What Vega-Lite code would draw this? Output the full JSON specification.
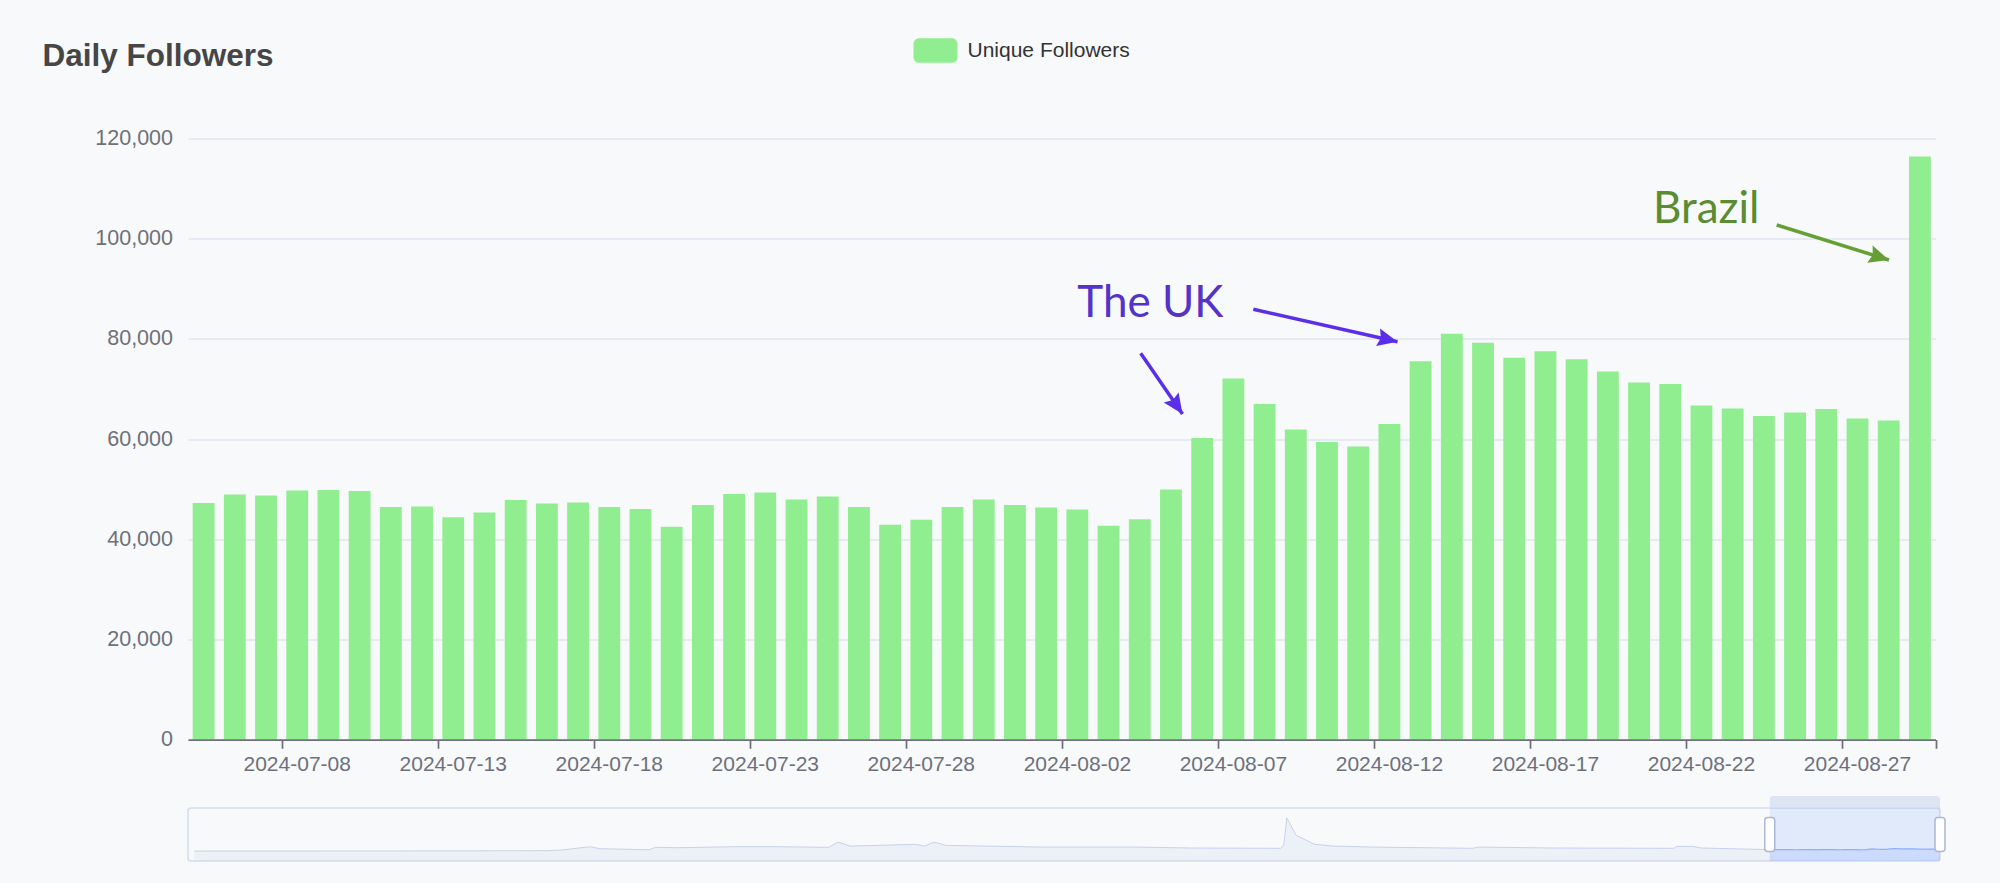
{
  "$schema": "https://vega.github.io/schema/vega-lite/v6.json",
  "background": "#f8f9fb",
  "padding": {"left": 42, "top": 28.5, "right": 70, "bottom": 35},
  "bounds": "flush",
  "spacing": 68.5,
  "title": {
    "text": "Daily Followers",
    "anchor": "start",
    "frame": "group",
    "dx": -145.5,
    "offset": -44,
    "fontSize": 31.5,
    "fontWeight": "bold",
    "color": "#464646",
    "font": "Liberation Sans"
  },
  "datasets": {
    "daily": [
      {"date": "2024-07-05", "followers": 47200},
      {"date": "2024-07-06", "followers": 48900},
      {"date": "2024-07-07", "followers": 48700},
      {"date": "2024-07-08", "followers": 49700},
      {"date": "2024-07-09", "followers": 49800},
      {"date": "2024-07-10", "followers": 49600},
      {"date": "2024-07-11", "followers": 46400},
      {"date": "2024-07-12", "followers": 46500},
      {"date": "2024-07-13", "followers": 44400},
      {"date": "2024-07-14", "followers": 45300},
      {"date": "2024-07-15", "followers": 47800},
      {"date": "2024-07-16", "followers": 47100},
      {"date": "2024-07-17", "followers": 47300},
      {"date": "2024-07-18", "followers": 46400},
      {"date": "2024-07-19", "followers": 46000},
      {"date": "2024-07-20", "followers": 42500},
      {"date": "2024-07-21", "followers": 46800},
      {"date": "2024-07-22", "followers": 49000},
      {"date": "2024-07-23", "followers": 49300},
      {"date": "2024-07-24", "followers": 47900},
      {"date": "2024-07-25", "followers": 48500},
      {"date": "2024-07-26", "followers": 46400},
      {"date": "2024-07-27", "followers": 42900},
      {"date": "2024-07-28", "followers": 43900},
      {"date": "2024-07-29", "followers": 46400},
      {"date": "2024-07-30", "followers": 47900},
      {"date": "2024-07-31", "followers": 46800},
      {"date": "2024-08-01", "followers": 46300},
      {"date": "2024-08-02", "followers": 45900},
      {"date": "2024-08-03", "followers": 42700},
      {"date": "2024-08-04", "followers": 44000},
      {"date": "2024-08-05", "followers": 49900},
      {"date": "2024-08-06", "followers": 60200},
      {"date": "2024-08-07", "followers": 72100},
      {"date": "2024-08-08", "followers": 67000},
      {"date": "2024-08-09", "followers": 61900},
      {"date": "2024-08-10", "followers": 59400},
      {"date": "2024-08-11", "followers": 58500},
      {"date": "2024-08-12", "followers": 63000},
      {"date": "2024-08-13", "followers": 75500},
      {"date": "2024-08-14", "followers": 81000},
      {"date": "2024-08-15", "followers": 79200},
      {"date": "2024-08-16", "followers": 76200},
      {"date": "2024-08-17", "followers": 77500},
      {"date": "2024-08-18", "followers": 75900},
      {"date": "2024-08-19", "followers": 73500},
      {"date": "2024-08-20", "followers": 71300},
      {"date": "2024-08-21", "followers": 71000},
      {"date": "2024-08-22", "followers": 66700},
      {"date": "2024-08-23", "followers": 66100},
      {"date": "2024-08-24", "followers": 64600},
      {"date": "2024-08-25", "followers": 65300},
      {"date": "2024-08-26", "followers": 66000},
      {"date": "2024-08-27", "followers": 64100},
      {"date": "2024-08-28", "followers": 63700},
      {"date": "2024-08-29", "followers": 116400}
    ],
    "history": [
      {"day": "2023-02-12", "value": 500},
      {"day": "2023-04-10", "value": 3000},
      {"day": "2023-06-06", "value": 13000},
      {"day": "2023-06-11", "value": 37000},
      {"day": "2023-06-17", "value": 113000},
      {"day": "2023-06-20", "value": 146000},
      {"day": "2023-06-23", "value": 80000},
      {"day": "2023-07-09", "value": 46000},
      {"day": "2023-07-11", "value": 126000},
      {"day": "2023-07-18", "value": 113000},
      {"day": "2023-08-05", "value": 146000},
      {"day": "2023-08-20", "value": 146000},
      {"day": "2023-09-05", "value": 126000},
      {"day": "2023-09-08", "value": 302000},
      {"day": "2023-09-12", "value": 169000},
      {"day": "2023-09-21", "value": 193000},
      {"day": "2023-10-03", "value": 226000},
      {"day": "2023-10-06", "value": 169000},
      {"day": "2023-10-09", "value": 302000},
      {"day": "2023-10-13", "value": 193000},
      {"day": "2023-11-12", "value": 136000},
      {"day": "2023-12-13", "value": 136000},
      {"day": "2023-12-31", "value": 103000},
      {"day": "2024-01-29", "value": 93000},
      {"day": "2024-01-30", "value": 203000},
      {"day": "2024-01-31", "value": 1122000},
      {"day": "2024-02-03", "value": 535000},
      {"day": "2024-02-09", "value": 226000},
      {"day": "2024-02-15", "value": 169000},
      {"day": "2024-02-27", "value": 136000},
      {"day": "2024-03-31", "value": 93000},
      {"day": "2024-04-02", "value": 136000},
      {"day": "2024-04-26", "value": 103000},
      {"day": "2024-06-04", "value": 93000},
      {"day": "2024-06-05", "value": 159000},
      {"day": "2024-06-10", "value": 159000},
      {"day": "2024-06-13", "value": 103000},
      {"day": "2024-07-05", "value": 47200}
    ],
    "window": [{"start": "2024-07-05", "end": "2024-08-29"}],
    "notes": [
      {"label": "The UK", "pos": 28.5, "value": 84400},
      {"label": "Brazil", "pos": 46.95, "value": 103100}
    ],
    "arrows": [
      {"arrow": "uk1", "pos": 30.53, "y": 77110, "tipPos": 31.87, "tipY": 64990},
      {"arrow": "uk2", "pos": 34.14, "y": 85900, "tipPos": 38.76, "tipY": 79430},
      {"arrow": "br", "pos": 50.91, "y": 102730, "tipPos": 54.51, "tipY": 95740}
    ]
  },
  "vconcat": [
    {
      "width": 1747.5,
      "height": 601,
      "resolve": {"scale": {"x": "independent"}},
      "layer": [
        {
          "data": {"name": "daily"},
          "mark": {"type": "bar"},
          "encoding": {
            "x": {
              "field": "date",
              "type": "ordinal",
              "scale": {"paddingInner": 0.3, "paddingOuter": 0.15},
              "axis": {
                "title": null,
                "values": ["2024-07-08", "2024-07-13", "2024-07-18", "2024-07-23", "2024-07-28", "2024-08-02", "2024-08-07", "2024-08-12", "2024-08-17", "2024-08-22", "2024-08-27"],
                "labelAngle": 0,
                "labelFontSize": 21,
                "labelColor": "#6e7079",
                "labelFont": "Liberation Sans",
                "labelPadding": 14,
                "labelBaseline": "top",
                "ticks": false,
                "tickSize": 0,
                "domain": false,
                "grid": false
              }
            },
            "y": {
              "field": "followers",
              "type": "quantitative",
              "scale": {"domain": [0, 120000], "nice": false},
              "axis": {
                "title": null,
                "values": [0, 20000, 40000, 60000, 80000, 100000, 120000],
                "format": ",d",
                "labelFontSize": 21.5,
                "labelColor": "#6e7079",
                "labelFont": "Liberation Sans",
                "labelPadding": 15.5,
                "ticks": false,
                "tickSize": 0,
                "domain": false,
                "grid": true,
                "gridColor": "#e0e6f1",
                "gridWidth": 1.3
              }
            },
            "color": {
              "datum": "Unique Followers",
              "type": "nominal",
              "scale": {"range": ["#90ee90"]},
              "legend": {
                "orient": "none",
                "legendX": 725.5,
                "legendY": -110,
                "title": null,
                "padding": 0,
                "symbolType": "M-0.75,-0.557L0.75,-0.557A0.25,0.25 0 0 1 1,-0.307L1,0.307A0.25,0.25 0 0 1 0.75,0.557L-0.75,0.557A0.25,0.25 0 0 1 -1,0.307L-1,-0.307A0.25,0.25 0 0 1 -0.75,-0.557Z",
                "symbolSize": 1936,
                "symbolStrokeWidth": 0,
                "symbolOpacity": 1,
                "labelFontSize": 21,
                "labelFont": "Liberation Sans",
                "labelColor": "#333333",
                "labelOffset": 10,
                "labelLimit": 400
              }
            }
          }
        },
        {
          "layer": [
            {
              "data": {"name": "notes"},
              "mark": {"type": "text", "align": "left", "baseline": "alphabetic", "font": "Lato", "fontSize": 44, "fontWeight": 400},
              "encoding": {
                "x": {
                  "field": "pos",
                  "type": "quantitative",
                  "scale": {"domain": [0, 56], "nice": false, "zero": false},
                  "axis": {
                    "orient": "bottom",
                    "title": null,
                    "values": [3, 8, 13, 18, 23, 28, 33, 38, 43, 48, 53, 56],
                    "labels": false,
                    "grid": false,
                    "domain": true,
                    "domainColor": "#6e7079",
                    "domainWidth": 1.75,
                    "ticks": true,
                    "tickColor": "#6e7079",
                    "tickWidth": 1.75,
                    "tickSize": 8.75,
                    "zindex": 1
                  }
                },
                "y": {"field": "value", "type": "quantitative"},
                "text": {"field": "label"},
                "color": {"condition": {"test": "datum.label === 'Brazil'", "value": "#5a8c32"}, "value": "#5532c8"}
              }
            },
            {
              "data": {"name": "arrows"},
              "mark": {"type": "rule", "strokeWidth": 3.5, "strokeCap": "butt"},
              "encoding": {
                "x": {"field": "pos", "type": "quantitative", "scale": {"domain": [0, 56], "nice": false, "zero": false}},
                "x2": {"field": "tipPos"},
                "y": {"field": "y", "type": "quantitative"},
                "y2": {"field": "tipY"},
                "color": {"condition": {"test": "datum.arrow === 'br'", "value": "#65a035"}, "value": "#5b2eea"}
              }
            },
            {
              "data": {"name": "arrows"},
              "mark": {"type": "point", "filled": true, "opacity": 1, "size": 400, "strokeWidth": 0, "shape": "M0,0L-2,-0.9L-1.7,0L-2,0.9Z"},
              "encoding": {
                "x": {"field": "tipPos", "type": "quantitative", "scale": {"domain": [0, 56], "nice": false, "zero": false}},
                "y": {"field": "tipY", "type": "quantitative"},
                "angle": {"condition": [{"test": "datum.arrow === 'uk1'", "value": 55.5}, {"test": "datum.arrow === 'uk2'", "value": 12.7}], "value": 17.3},
                "color": {"condition": {"test": "datum.arrow === 'br'", "value": "#65a035"}, "value": "#5b2eea"}
              }
            }
          ]
        }
      ]
    },
    {
      "width": 1752,
      "height": 53,
      "view": {"stroke": "#d2dbee", "strokeWidth": 1.5, "cornerRadius": 3},
      "layer": [
        {
          "data": {"name": "history"},
          "mark": {"type": "area", "fill": "#d2dbee", "fillOpacity": 0.3, "line": {"color": "#c8d2e8", "strokeWidth": 1}},
          "encoding": {
            "x": {
              "field": "day",
              "type": "temporal",
              "scale": {"domain": [{"year": 2023, "month": 2, "date": 10, "utc": true}, {"year": 2024, "month": 8, "date": 29, "utc": true}]},
              "axis": null
            },
            "y": {"field": "value", "type": "quantitative", "scale": {"domain": [-336600, 1458600], "nice": false, "zero": false}, "axis": null},
            "y2": {"datum": -336600}
          }
        },
        {
          "data": {"name": "daily"},
          "transform": [{"calculate": "toDate(datum.date)", "as": "day"}],
          "mark": {"type": "area", "fill": "#8fb0f7", "fillOpacity": 0.25, "line": {"color": "#8fb0f7", "strokeWidth": 1.2}},
          "encoding": {
            "x": {"field": "day", "type": "temporal"},
            "y": {"field": "followers", "type": "quantitative"},
            "y2": {"datum": -336600}
          }
        },
        {
          "data": {"name": "window"},
          "mark": {"type": "rect", "fill": "#87afff", "fillOpacity": 0.2},
          "encoding": {
            "x": {"field": "start", "type": "temporal"},
            "x2": {"field": "end"}
          }
        },
        {
          "data": {"name": "window"},
          "mark": {"type": "rect", "fill": "#d2dbee", "fillOpacity": 0.7, "cornerRadiusTopLeft": 3, "cornerRadiusTopRight": 3},
          "encoding": {
            "x": {"field": "start", "type": "temporal"},
            "x2": {"field": "end"},
            "y": {"datum": 1458600},
            "y2": {"datum": 1865000}
          }
        },
        {
          "data": {"name": "window"},
          "mark": {"type": "tick", "fill": "#ffffff", "stroke": "#acb8d1", "strokeWidth": 1.5, "size": 34, "thickness": 10, "cornerRadius": 3, "opacity": 1},
          "encoding": {"x": {"field": "start", "type": "temporal"}}
        },
        {
          "data": {"name": "window"},
          "mark": {"type": "tick", "fill": "#ffffff", "stroke": "#acb8d1", "strokeWidth": 1.5, "size": 34, "thickness": 10, "cornerRadius": 3, "opacity": 1},
          "encoding": {"x": {"field": "end", "type": "temporal"}}
        }
      ]
    }
  ],
  "config": {
    "view": {"stroke": null},
    "axis": {"labelFont": "Liberation Sans"}
  }
}
